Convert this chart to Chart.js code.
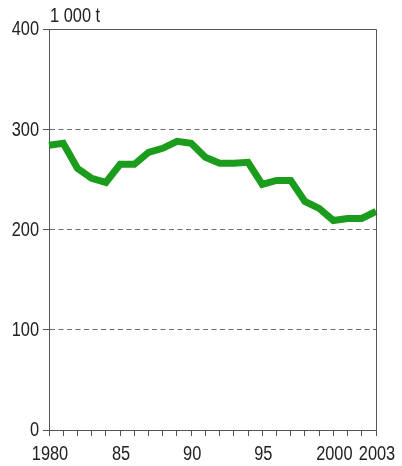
<!DOCTYPE html>
<html>
<head>
<meta charset="utf-8">
<script src="https://cdn.jsdelivr.net/npm/chart.js@4/dist/chart.umd.min.js"></script>
<style>
  html, body { margin: 0; padding: 0; background: #fff; }
  #wrap { width: 402px; height: 466px; }
</style>
</head>
<body>
<div id="wrap"><canvas id="chart" width="402" height="466"></canvas></div>
<script>
// Production, 1 000 t
const years = ['1980', '1981', '1982', '1983', '1984', '1985', '1986', '1987', '1988', '1989', '1990', '1991',
               '1992', '1993', '1994', '1995', '1996', '1997', '1998', '1999', '2000', '2001', '2002', '2003'];
const values = [284, 286, 261, 251, 247, 265, 265, 277, 281, 288, 286, 272,
                266, 266, 267, 245, 249, 249, 228, 221, 209, 211, 211, 218];
const xTickLabels = { '1980': '1980', '1985': '85', '1990': '90', '1995': '95', '2000': '2000', '2003': '2003' };
const yTicks = [0, 100, 200, 300, 400];
const unitLabel = '1 000 t';

const fontFamily = "'Liberation Sans', Arial, sans-serif";
const squeeze = 0.84;   // condensed look of the original typeface

// draws narrow text at (x, y)
function narrowText(c, txt, x, y, align) {
    c.save();
    c.translate(x, y);
    c.scale(squeeze, 1);
    c.textAlign = align;
    c.fillText(txt, 0, 0);
    c.restore();
}

// frame on top/right, tick labels and unit label
const framePlugin = {
    id: 'frame',
    afterDraw(chart) {
        const a = chart.chartArea;
        const c = chart.ctx;
        const xs = chart.scales.x;
        const ys = chart.scales.y;
        c.save();
        c.strokeStyle = '#555';
        c.lineWidth = 1;
        c.beginPath();
        c.moveTo(a.left, a.top + 0.5);
        c.lineTo(a.right + 0.5, a.top + 0.5);
        c.lineTo(a.right + 0.5, a.bottom);
        c.stroke();

        c.fillStyle = '#222';
        c.font = '19.5px ' + fontFamily;
        c.textBaseline = 'alphabetic';
        narrowText(c, unitLabel, a.left + 1, a.top - 7, 'left');

        c.textBaseline = 'middle';
        yTicks.forEach(v => {
            narrowText(c, String(v), a.left - 10, ys.getPixelForValue(v) + 1, 'right');
        });

        c.textBaseline = 'alphabetic';
        years.forEach((y, i) => {
            if (xTickLabels[y]) {
                narrowText(c, xTickLabels[y], xs.getPixelForValue(i) + 1, a.bottom + 30, 'center');
            }
        });
        c.restore();
    }
};

new Chart(document.getElementById('chart'), {
    type: 'line',
    data: {
        labels: years,
        datasets: [{
            data: values,
            borderColor: '#1c9c1c',
            borderWidth: 7,
            pointRadius: 0,
            tension: 0,
            fill: false
        }]
    },
    options: {
        responsive: false,
        animation: false,
        layout: { padding: { top: 29, right: 26, left: 0, bottom: 0 } },
        plugins: { legend: { display: false }, tooltip: { enabled: false } },
        scales: {
            x: {
                type: 'category',
                offset: false,
                afterFit: function(s) { s.height = 36; },
                grid: { drawOnChartArea: false, drawTicks: true, tickLength: 6, tickColor: '#555', offset: false },
                border: { color: '#555', width: 1 },
                ticks: {
                    autoSkip: false,
                    maxRotation: 0,
                    color: 'rgba(0,0,0,0)',
                    font: { size: 12, family: fontFamily }
                }
            },
            y: {
                min: 0,
                max: 400,
                afterFit: function(s) { s.width = 49; },
                afterBuildTicks: function(s) { s.ticks = yTicks.map(v => ({ value: v })); },
                grid: {
                    color: function(ctx) {
                        const v = ctx.tick && ctx.tick.value;
                        return (v === 0 || v === 400) ? 'rgba(0,0,0,0)' : '#6e6e6e';
                    },
                    tickColor: '#555',
                    tickLength: 6,
                    lineWidth: 1
                },
                border: { color: '#555', width: 1, dash: [5, 3.5] },
                ticks: {
                    color: 'rgba(0,0,0,0)',
                    font: { size: 12, family: fontFamily }
                }
            }
        }
    },
    plugins: [framePlugin]
});
</script>
</body>
</html>
